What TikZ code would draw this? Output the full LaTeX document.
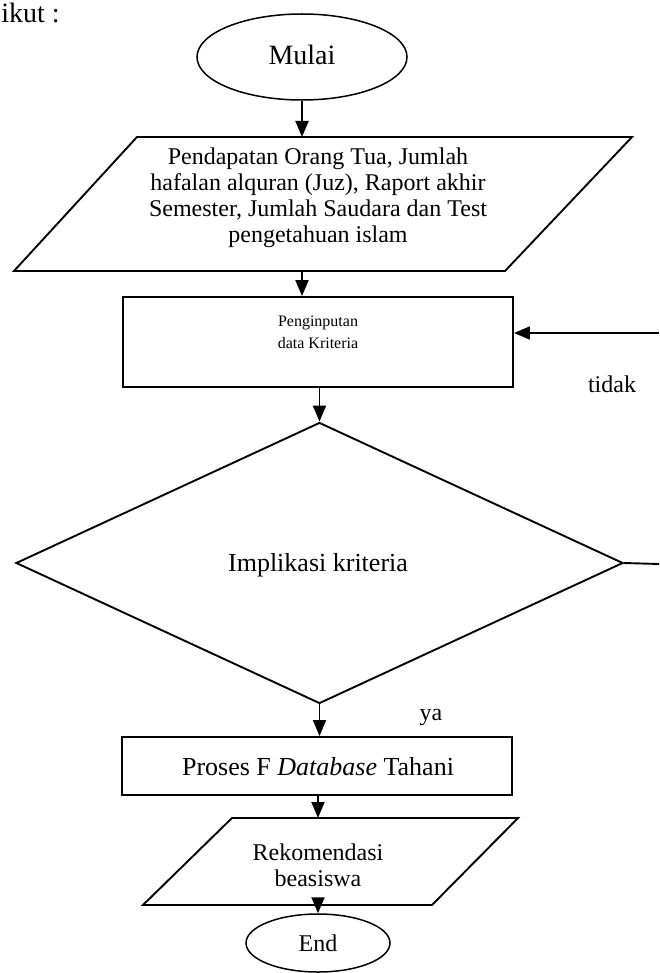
\documentclass[tikz,border=0pt]{standalone}
\usepackage{fontspec}
\setmainfont{Liberation Serif}
\usetikzlibrary{arrows.meta,shapes.geometric}
\begin{document}
\begin{tikzpicture}[x=0.5pt,y=-0.5pt,
  ln/.style={line width=0.95pt,line join=miter},
  arr/.style={line width=0.95pt,-{Triangle[length=8pt,width=6.5pt]}},
  shp/.style={draw,line width=0.95pt,inner sep=0pt},
  oval/.style={shp,ellipse,line width=0.75pt},
  box/.style={shp,rectangle},
  dec/.style={shp,diamond},
  txt/.style={font=\fontsize{12}{13}\selectfont,align=center,inner sep=0pt},
  big/.style={font=\fontsize{13}{14}\selectfont,align=center,inner sep=0pt},
  small/.style={font=\fontsize{8}{11}\selectfont,align=center,inner sep=0pt}]
\useasboundingbox (0,0) rectangle (659,973);

\node[font=\fontsize{14}{16}\selectfont,inner sep=0pt,anchor=base west] (ikut) at (1,23) {ikut :};

% Mulai
\node[oval,minimum width=105pt,minimum height=43pt] (mulai) at (302,57) {};
\node[font=\fontsize{14}{16}\selectfont,inner sep=0pt] (mulaiT) at (302,55) {Mulai};

% input parallelogram
\coordinate (inpA) at (137,137);
\coordinate (inpB) at (632,137);
\coordinate (inpC) at (505,271);
\coordinate (inpD) at (14,271);
\draw[ln] (inpA) -- (inpB) -- (inpC) -- (inpD) -- cycle;
\node[txt] (inp) at (318,198) {Pendapatan Orang Tua, Jumlah\\hafalan alquran (Juz), Raport akhir\\Semester, Jumlah Saudara dan Test\\pengetahuan islam};
\coordinate (inpN) at (302,137);
\coordinate (inpS) at (302,271);

% Penginputan
\node[box,minimum width=195pt,minimum height=45pt] (rect1) at (318,342) {};
\node[small] (rect1T) at (318,332) {Penginputan\\data Kriteria};

% decision
\node[dec,minimum width=303.5pt,minimum height=140.5pt] (dec) at (319.5,563) {};
\node[big] (decT) at (318,565) {Implikasi kriteria};

% Proses
\node[box,minimum width=195pt,minimum height=29pt] (proses) at (317,766) {};
\node[big] (prosesT) at (318,767) {Proses F \textit{Database} Tahani};

% Rekomendasi parallelogram
\coordinate (rekA) at (232,818);
\coordinate (rekB) at (518,818);
\coordinate (rekC) at (432,905);
\coordinate (rekD) at (143,905);
\draw[ln] (rekA) -- (rekB) -- (rekC) -- (rekD) -- cycle;
\node[txt] (rek) at (318,865) {Rekomendasi\\beasiswa};
\coordinate (rekN) at (318,818);
\coordinate (rekS) at (318,905);

% End
\node[oval,minimum width=72pt,minimum height=29pt] (end) at (318,943) {};
\node[txt] (endT) at (318,943) {End};

\node[txt] (tidak) at (612,384) {tidak};
\node[txt] (ya) at (431,717) {ya};

\coordinate (loopT) at (659,333);
\coordinate (loopB) at (659,564);

\draw[arr] (mulai.south) -- (inpN);
\draw[arr] (inpS) -- (rect1.north -| inpS);
\draw[arr] (rect1.south -| dec.north) -- (dec.north);
\draw[arr] (dec.south) -- (dec.south |- proses.north);
\draw[arr] (proses.south -| rekN) -- (rekN);
\draw[arr] (rekS) -- (end.north);
\draw[arr] (loopT) -- (loopT -| rect1.east);
\draw[ln] (dec.east) -- (loopB);
\end{tikzpicture}
\end{document}
